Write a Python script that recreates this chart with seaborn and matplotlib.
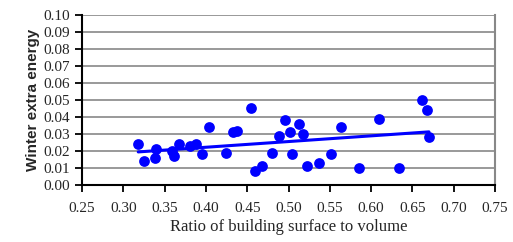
import numpy as np
import pandas as pd
import matplotlib
matplotlib.use("Agg")
import matplotlib.pyplot as plt
import seaborn as sns

# ratio of building surface to volume
ratio = [0.318, 0.325, 0.338, 0.340, 0.359, 0.361, 0.367, 0.381, 0.388, 0.395,
         0.404, 0.424, 0.433, 0.438, 0.455, 0.459, 0.468, 0.480, 0.488, 0.496,
         0.502, 0.504, 0.513, 0.517, 0.522, 0.537, 0.551, 0.564, 0.585, 0.609,
         0.634, 0.661, 0.668, 0.670]
# winter extra energy
energy = [0.024, 0.014, 0.016, 0.021, 0.020, 0.017, 0.024, 0.023, 0.024, 0.018,
          0.034, 0.019, 0.031, 0.032, 0.045, 0.008, 0.011, 0.019, 0.029, 0.038,
          0.031, 0.018, 0.036, 0.030, 0.011, 0.013, 0.018, 0.034, 0.010, 0.039,
          0.010, 0.050, 0.044, 0.028]

x_ticks = [0.25, 0.30, 0.35, 0.40, 0.45, 0.50, 0.55, 0.60, 0.65, 0.70, 0.75]
y_ticks = [0.00, 0.01, 0.02, 0.03, 0.04, 0.05, 0.06, 0.07, 0.08, 0.09, 0.10]

df = pd.DataFrame({"ratio": ratio, "energy": energy})

sns.set_style("white")
plt.rcParams["font.family"] = ["Liberation Serif", "DejaVu Serif"]

fig = plt.figure(figsize=(5.13, 2.42), dpi=100)
ax = fig.add_axes([0.160, 0.236, 0.805, 0.702])

sns.regplot(data=df, x="ratio", y="energy", ax=ax, ci=None, color="#0000ff",
            scatter_kws={"s": 60, "alpha": 1, "linewidths": 0, "zorder": 3},
            line_kws={"lw": 2.2, "zorder": 4})

ax.set_xlim(0.25, 0.75)
ax.set_ylim(0.0, 0.10)
ax.set_xticks(x_ticks)
ax.set_yticks(y_ticks)
ax.set_xticklabels([f"{v:.2f}" for v in x_ticks], fontsize=11)
ax.set_yticklabels([f"{v:.2f}" for v in y_ticks], fontsize=11)
ax.yaxis.grid(True, color="#888888", lw=1.2)
ax.set_axisbelow(True)

for s in ["left", "bottom"]:
    ax.spines[s].set_color("black")
    ax.spines[s].set_linewidth(1.5)
ax.spines["right"].set_color("#888888")
ax.spines["right"].set_linewidth(1.5)
ax.spines["top"].set_visible(False)

ax.tick_params(axis="both", direction="out", length=5, width=1.3, color="black",
               left=True, bottom=True)
ax.tick_params(axis="x", pad=7)
ax.tick_params(axis="y", pad=4)

ax.set_xlabel("Ratio of building surface to volume", fontsize=12, labelpad=3)
ax.set_ylabel("Winter extra energy", fontsize=11, fontweight="semibold",
              family=["Liberation Sans", "DejaVu Sans"], labelpad=2)

fig.savefig("out.png", dpi=100)
